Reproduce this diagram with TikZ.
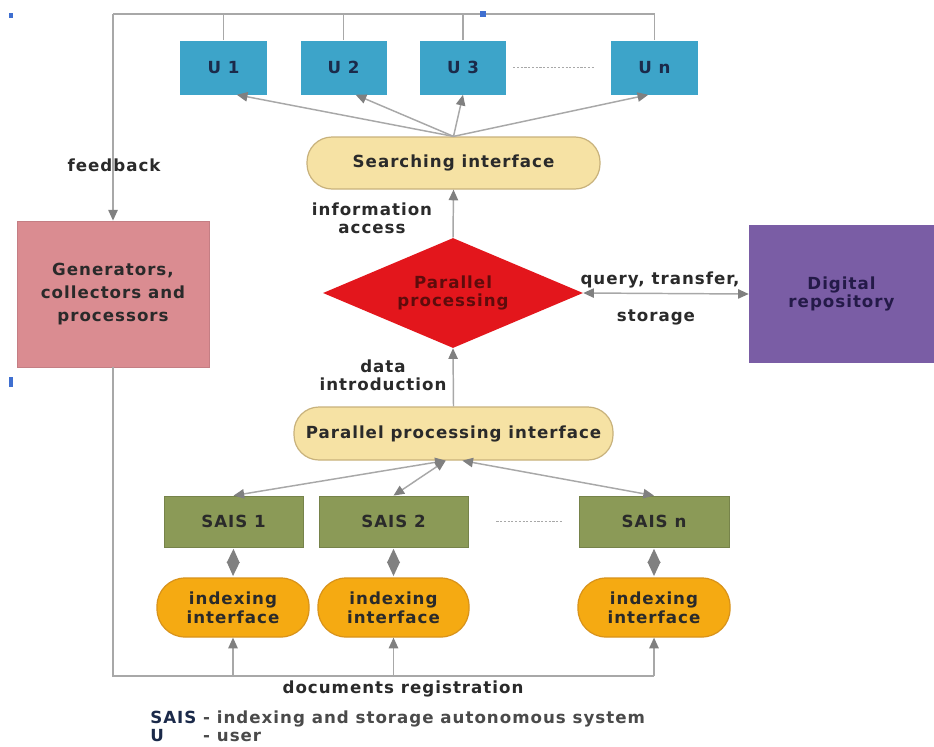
\documentclass[tikz,border=0pt]{standalone}
\usepackage{fontspec}
\setmainfont{DejaVu Sans}[LetterSpace=6]
\usetikzlibrary{arrows.meta,shapes.geometric,calc}
\newcommand{\pxu}{0.75pt}
\definecolor{ublue}{HTML}{3DA4C9}
\definecolor{unavy}{HTML}{1B2A4A}
\definecolor{pillfill}{HTML}{F6E2A4}
\definecolor{pilldraw}{HTML}{C8B27C}
\definecolor{genfill}{HTML}{DA8C91}
\definecolor{gendraw}{HTML}{C47E84}
\definecolor{diared}{HTML}{E3161C}
\definecolor{diatext}{HTML}{5E0C0C}
\definecolor{repofill}{HTML}{7A5DA5}
\definecolor{repotext}{HTML}{241A48}
\definecolor{saisfill}{HTML}{8B9A57}
\definecolor{idxfill}{HTML}{F5AA12}
\definecolor{idxdraw}{HTML}{D8921A}
\definecolor{linegray}{HTML}{A8A8A8}
\definecolor{arrgray}{HTML}{808080}
\definecolor{txt}{HTML}{2A2A2A}
\definecolor{legtxt}{HTML}{4A4A4A}
\definecolor{handle}{HTML}{3F6FD0}
\begin{document}
\begin{tikzpicture}[x=0.75pt,y=-0.75pt,
  font=\bfseries\fontsize{12.5}{13.5}\selectfont, text=txt,
  ubox/.style={rectangle,fill=ublue,text=unavy,inner sep=0pt,minimum height=54*\pxu},
  pillbox/.style={rectangle,fill=pillfill,draw=pilldraw,line width=0.9pt,rounded corners=25*\pxu,inner sep=0pt,minimum height=52*\pxu},
  saisbox/.style={rectangle,fill=saisfill,draw=saisfill!85!black,line width=0.6pt,inner sep=0pt,minimum height=51*\pxu},
  idxbox/.style={rectangle,fill=idxfill,draw=idxdraw,line width=0.9pt,rounded corners=28*\pxu,inner sep=0pt,minimum height=59*\pxu,align=center,font=\bfseries\fontsize{12.5}{14}\selectfont},
  conn/.style={draw=linegray,line width=1.1pt},
  tip/.tip={Triangle[length=8pt,width=7pt,color=arrgray]},
  arr/.style={conn,-tip},
  darr/.style={conn,tip-tip},
  dmd/.style={conn,{Triangle[length=10.6pt,width=9.5pt,color=arrgray]}-{Triangle[length=10.6pt,width=9.5pt,color=arrgray]},shorten <=1pt,shorten >=1pt},
  dotline/.style={draw=linegray,line width=0.8pt,dash pattern=on 1.6pt off 1.2pt},
  lbl/.style={align=center,inner sep=0pt}
]
\useasboundingbox (0,0) rectangle (934,746);
\fill[white] (0,0) rectangle (934,746);

% users
\node[ubox,minimum width=87*\pxu] (u1) at (223.5,67.5) {U 1};
\node[ubox,minimum width=86*\pxu] (u2) at (343.5,67.5) {U 2};
\node[ubox,minimum width=86*\pxu] (u3) at (463,67.5) {U 3};
\node[ubox,minimum width=87*\pxu] (un) at (654.5,67.5) {U n};

% main nodes
\node[pillbox,minimum width=293*\pxu] (search) at (453.5,163) {Searching interface};
\node[rectangle,fill=genfill,draw=gendraw,line width=0.6pt,align=center,minimum width=192*\pxu,minimum height=146*\pxu,inner sep=0pt,font=\bfseries\fontsize{12.5}{17}\selectfont] (gen) at (113,294) {Generators,\\collectors and\\processors};
\node[diamond,aspect=2.36,fill=diared,text=diatext,align=center,inner sep=0pt,minimum width=260*\pxu,minimum height=110*\pxu] (dia) at (453,293) {Parallel\\processing};
\node[rectangle,fill=repofill,text=repotext,align=center,inner sep=0pt,minimum width=185*\pxu,minimum height=138*\pxu] (repo) at (841.5,294) {Digital\\repository};
\node[pillbox,minimum width=319*\pxu,minimum height=53*\pxu] (ppi) at (453.5,433.5) {Parallel processing interface};

% SAIS
\node[saisbox,minimum width=139*\pxu] (sais1) at (233.5,521.5) {SAIS 1};
\node[saisbox,minimum width=149*\pxu] (sais2) at (393.5,521.5) {SAIS 2};
\node[saisbox,minimum width=150*\pxu] (saisn) at (654,521.5) {SAIS n};

% indexing interfaces
\node[idxbox,minimum width=152*\pxu] (idx1) at (233,607.5) {indexing\\interface};
\node[idxbox,minimum width=151*\pxu] (idx2) at (393.5,607.5) {indexing\\interface};
\node[idxbox,minimum width=152*\pxu] (idxn) at (654,607.5) {indexing\\interface};

% feedback loop coordinates
\coordinate (tl) at (113,14);
\coordinate (tr) at (654.5,14);
\coordinate (bl) at (113,676);
\coordinate (br) at (654,676);

% top feedback lines
\draw[conn] (un.north) -- (tr) -- (tl);
\draw[arr] (tl) -- (gen.north);
\draw[conn] (u1.north) -- (u1.north |- tl);
\draw[conn] (u2.north) -- (u2.north |- tl);
\draw[conn] (u3.north) -- (u3.north |- tl);

% bottom registration lines
\draw[conn] (gen.south) -- (bl) -- (br);
\draw[arr] (br) -- (idxn.south);
\draw[arr] (idx1.south |- bl) -- (idx1.south);
\draw[arr] (idx2.south |- bl) -- (idx2.south);

% searching interface to users
\draw[arr] (search.north) -- (u1.-64);
\draw[arr] (search.north) -- (u2.-66);
\draw[arr] (search.north) -- (u3.south);
\draw[arr] (search.north) -- (un.257);

% vertical flow
\draw[arr] (dia.north) -- (search.south);
\draw[arr] (ppi.north) -- (dia.south);
\draw[darr] (dia.east) -- (repo.west);

% ppi to SAIS
\draw[darr] (ppi.254) -- (sais1.north);
\draw[darr] (ppi.254) -- (sais2.north);
\draw[darr] (ppi.288) -- (saisn.north);

% SAIS to indexing
\draw[dmd] (sais1.south) -- (idx1.north);
\draw[dmd] (sais2.south) -- (idx2.north);
\draw[dmd] (saisn.south) -- (idxn.north);

% dotted ellipses
\draw[dotline] ($(u3.east)+(7,0)$) -- ($(un.west)+(-17,0)$);
\draw[dotline] ($(sais2.east)+(28,0)$) -- ($(saisn.west)+(-17,0)$);

% labels
\node[lbl] (fb) at (114,165) {feedback};
\node[lbl] (ia) at (372,218) {information\\access};
\node[lbl] (di) at (383,375) {data\\introduction};
\node[lbl] (qt) at (660,280) {query, transfer,};
\node[lbl] (st) at (656,317) {storage};
\node[lbl] (dr) at (403,689) {documents registration};
\node[anchor=north west,inner sep=0pt,font=\bfseries\fontsize{12.5}{13.5}\selectfont] (legend) at (150,711)
 {\begin{tabular}{@{}l@{\ }l@{}}
  \textcolor{unavy}{SAIS} & \textcolor{legtxt}{- indexing and storage autonomous system}\\
  \textcolor{unavy}{U} & \textcolor{legtxt}{- user}
 \end{tabular}};

% selection handle marks
\fill[handle] (9,13) rectangle (13,18);
\fill[handle] (480,11) rectangle (486,17);
\fill[handle] (9,377) rectangle (13,387);
\end{tikzpicture}
\end{document}
